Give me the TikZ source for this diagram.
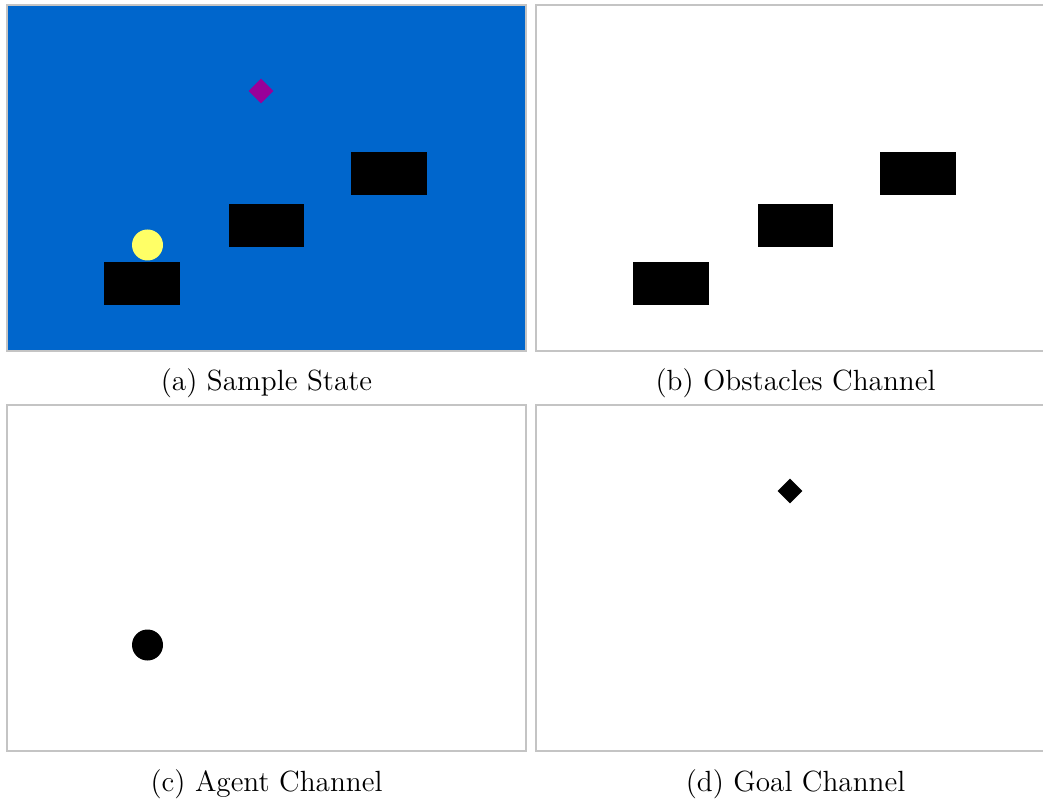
\documentclass[tikz,border=0pt]{standalone}
\usetikzlibrary{shapes.geometric}
\definecolor{bgblue}{HTML}{0066CC}
\definecolor{goalpurple}{HTML}{990099}
\definecolor{agentyellow}{HTML}{FFFF66}
\definecolor{frame}{HTML}{C4C4C4}
\tikzset{
  panel/.style={draw=frame,line width=0.6pt},
  obstacle/.style={fill=black,draw=none},
  agent/.style={circle,minimum size=15.5pt,inner sep=0pt,draw=none},
  goal/.style={diamond,minimum width=12.5pt,minimum height=12.5pt,inner sep=0pt,draw=none},
  caption/.style={font=\fontsize{14.6}{17}\selectfont,inner sep=0pt,anchor=base}
}
\begin{document}
\begin{tikzpicture}[x=0.5pt,y=-0.5pt]
\useasboundingbox (0,0) rectangle (1043,801);
\clip (0,0) rectangle (1043,801);
% panel (a)
\draw[panel,fill=bgblue] (7,5) rectangle (526,351);
\fill[obstacle] (104,262) rectangle (180,305);
\fill[obstacle] (229,204) rectangle (304,247);
\fill[obstacle] (351,152) rectangle (427,195);
\node[agent,fill=agentyellow] (agentA) at (147.5,245) {};
\node[goal,fill=goalpurple] (goalA) at (261,91) {};
% panel (b)
\draw[panel,fill=white] (536,5) rectangle (1055,351);
\fill[obstacle] (633,262) rectangle (709,305);
\fill[obstacle] (758,204) rectangle (833,247);
\fill[obstacle] (880,152) rectangle (956,195);
% panel (c)
\draw[panel,fill=white] (7,405) rectangle (526,751);
\node[agent,fill=black] (agentC) at (147.5,645) {};
% panel (d)
\draw[panel,fill=white] (536,405) rectangle (1055,751);
\node[goal,fill=black] (goalD) at (790,491) {};
% captions
\node[caption] (capA) at (266.5,391) {(a) Sample State};
\node[caption] (capB) at (795.5,391) {(b) Obstacles Channel};
\node[caption] (capC) at (266.5,791) {(c) Agent Channel};
\node[caption] (capD) at (795.5,791) {(d) Goal Channel};
\end{tikzpicture}
\end{document}
